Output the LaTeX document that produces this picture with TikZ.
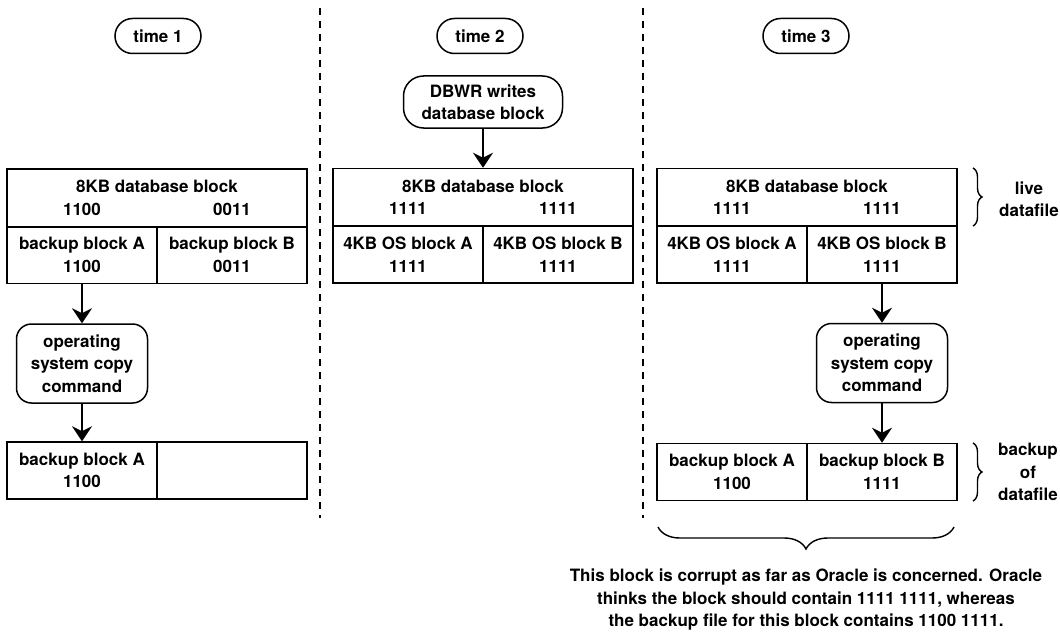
\documentclass[tikz,border=0pt]{standalone}
\usepackage{fontspec}
\setmainfont{TeX Gyre Heros}
\usetikzlibrary{arrows.meta,decorations.pathreplacing,shapes.misc}
\begin{document}
\begin{tikzpicture}[x=1pt,y=-1pt,
  every node/.style={font=\fontsize{17}{22.5}\selectfont\bfseries, align=center, inner sep=0pt},
  cellbox/.style={draw, line width=1.5pt},
  topcell/.style={cellbox, minimum width=300pt, minimum height=58pt},
  halfcell/.style={cellbox, minimum width=150pt, minimum height=57pt},
  timebox/.style={draw, line width=1.5pt, rounded rectangle, minimum width=86pt, minimum height=35pt},
  opbox/.style={draw, line width=1.5pt, rounded corners=15pt, minimum width=131pt, minimum height=79pt},
  flow/.style={line width=1.5pt, -{Stealth[length=15pt,width=20pt,inset=5pt]}},
  divider/.style={line width=1.8pt, dash pattern=on 7pt off 6pt},
  bracestyle/.style={line width=1.4pt, decorate, decoration={brace, amplitude=#1}}
]
\useasboundingbox (0,0) rectangle (1060,634);

% dividers
\coordinate (d1t) at (320,8); \coordinate (d1b) at (320,518);
\coordinate (d2t) at (643,8); \coordinate (d2b) at (643,518);
\draw[divider] (d1t) -- (d1b);
\draw[divider] (d2t) -- (d2b);

% time 1
\node[timebox] (t1) at (158,36) {time 1};
\node[topcell] (a1) at (157,198) {8KB database block\\\makebox[150pt]{1100}\makebox[150pt]{0011}};
\node[halfcell] (a1A) at (82,255) {backup block A\\1100};
\node[halfcell] (a1B) at (232,255) {backup block B\\0011};
\node[opbox] (op1) at (82,363.5) {operating\\system copy\\command};
\node[halfcell] (b1A) at (82,470.5) {backup block A\\1100};
\node[halfcell] (b1B) at (232,470.5) {};
\draw[flow] (a1A.south) -- (op1.north);
\draw[flow] (op1.south) -- (b1A.north);

% time 2
\node[timebox] (t2) at (480,36) {time 2};
\node[draw, line width=1.5pt, rounded corners=20pt, minimum width=159pt, minimum height=52pt] (dbwr) at (483,102) {DBWR writes\\database block};
\node[topcell] (a2) at (483,197.5) {8KB database block\\\makebox[150pt]{1111}\makebox[150pt]{1111}};
\node[halfcell] (a2A) at (408,254.5) {4KB OS block A\\1111};
\node[halfcell] (a2B) at (558,254.5) {4KB OS block B\\1111};
\draw[flow] (dbwr.south) -- (a2.north);

% time 3
\node[timebox] (t3) at (806,36) {time 3};
\node[topcell] (a3) at (807,197.5) {8KB database block\\\makebox[150pt]{1111}\makebox[150pt]{1111}};
\node[halfcell] (a3A) at (732,254.5) {4KB OS block A\\1111};
\node[halfcell] (a3B) at (882,254.5) {4KB OS block B\\1111};
\node[opbox] (op3) at (882,363) {operating\\system copy\\command};
\node[halfcell] (b3A) at (732,472) {backup block A\\1100};
\node[halfcell] (b3B) at (882,472) {backup block B\\1111};
\draw[flow] (a3B.south) -- (op3.north);
\draw[flow] (op3.south) -- (b3B.north);

% braces and notes
\coordinate (br1t) at (973,168); \coordinate (br1b) at (973,226);
\draw[bracestyle=9pt] (br1t) -- (br1b);
\node (live) at (1029,199) {live\\datafile};
\coordinate (br2t) at (973,443); \coordinate (br2b) at (973,501);
\draw[bracestyle=9pt] (br2t) -- (br2b);
\node (bkp) at (1028,472) {backup\\of\\datafile};
\coordinate (br3r) at (954,527); \coordinate (br3l) at (658,527);
\draw[bracestyle=22pt] (br3r) -- (br3l);
\node (note) at (806,600) {This block is corrupt as far as Oracle is concerned. Oracle\\thinks the block should contain 1111 1111, whereas\\the backup file for this block contains 1100 1111.};
\end{tikzpicture}
\end{document}
